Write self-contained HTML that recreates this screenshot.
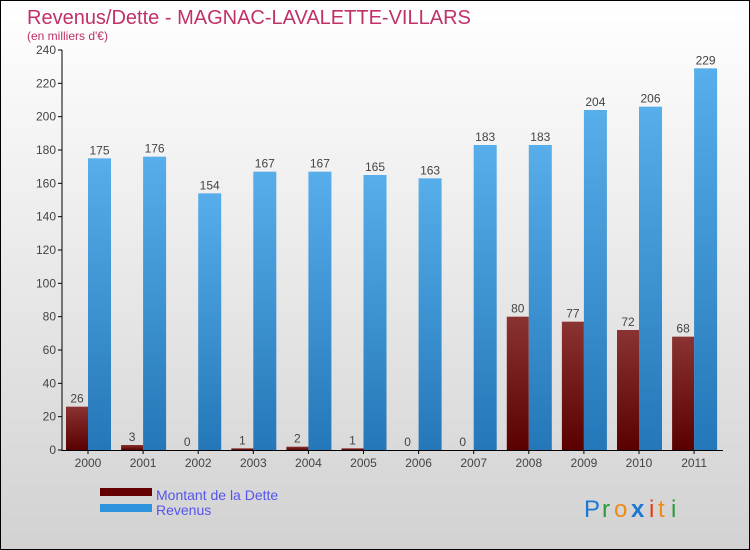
<!DOCTYPE html>
<html><head><meta charset="utf-8"><style>
body{margin:0}
#c{width:750px;height:550px;position:relative;box-sizing:border-box;border:1px solid #000;background:linear-gradient(#fff,#d2d2d2);font-family:"Liberation Sans",sans-serif;overflow:hidden}
</style></head><body>
<div id="c">
<svg id="s" width="748" height="548" style="position:absolute;left:0;top:0">
<defs>
<linearGradient id="gr" x1="0" y1="0" x2="0" y2="1"><stop offset="0" stop-color="#57aeea"/><stop offset="1" stop-color="#2477b8"/></linearGradient>
<linearGradient id="gd" x1="0" y1="0" x2="0" y2="1"><stop offset="0" stop-color="#8a3333"/><stop offset="1" stop-color="#5a0000"/></linearGradient>
</defs>
<text x="26" y="23" font-size="20" fill="#c0306a">Revenus/Dette - MAGNAC-LAVALETTE-VILLARS</text>
<text x="26" y="39" font-size="12" fill="#c0306a">(en milliers d'€)</text>
<g id="g"></g>
<rect x="99" y="487" width="52" height="8" fill="#650000"/>
<rect x="99" y="503" width="52" height="8" fill="#2c93dc"/>
<text x="155" y="499" font-size="14" fill="#5555ee">Montant de la Dette</text>
<text x="155" y="514" font-size="14" fill="#5555ee">Revenus</text>
<g font-size="24" font-family="'Liberation Sans',sans-serif">
<text x="583" y="516" fill="#1e78d2">P</text><text x="601" y="516" fill="#2a9a3a">r</text><text x="613" y="516" fill="#f08a10">o</text><text x="630" y="516" fill="#1e78d2" font-weight="bold">x</text><text x="648" y="516" fill="#e83a10">i</text><text x="657" y="516" fill="#f08a10">t</text><text x="670" y="516" fill="#2a9a3a">i</text>
</g>
</svg>
</div>
<script>
const years=["2000","2001","2002","2003","2004","2005","2006","2007","2008","2009","2010","2011"];
const dette=[26,3,0,1,2,1,0,0,80,77,72,68];
const revenus=[175,176,154,167,167,165,163,183,183,204,206,229];
const ticks=[0,20,40,60,80,100,120,140,160,180,200,220,240];
const NS="http://www.w3.org/2000/svg";
const g=document.getElementById('g');
const y=v=>449-v*400/240;
const xc=i=>87+i*55.1;
function mk(t,a){const e=document.createElementNS(NS,t);for(const k in a)e.setAttribute(k,a[k]);g.appendChild(e);return e;}
ticks.forEach(t=>{
 const l=mk('line',{x1:57,x2:61,y1:y(t),y2:y(t),stroke:'#000'});
 
 
 const tx=mk('text',{x:55,y:y(t)+4,'font-size':12,'text-anchor':'end',fill:'#444'});tx.textContent=t;
 
 
});
years.forEach((yr,i)=>{
 const c=xc(i);
 const d=mk('rect',{x:c-22,y:y(dette[i]),width:22,height:Math.max(dette[i]*400/240,1),fill:'url(#gd)'});
 
 
 const r=mk('rect',{x:c,y:y(revenus[i]),width:23,height:revenus[i]*400/240,fill:'url(#gr)'});
 
 
 const dl=mk('text',{x:c-11,y:y(dette[i])-4,'font-size':12,'text-anchor':'middle',fill:'#444'});dl.textContent=dette[i];
 
 
 const rl=mk('text',{x:c+11.5,y:y(revenus[i])-4,'font-size':12,'text-anchor':'middle',fill:'#444'});rl.textContent=revenus[i];
 
 
 const tk=mk('line',{x1:c,x2:c,y1:449,y2:453,stroke:'#000'});
 
 
 const xl=mk('text',{x:c,y:466,'font-size':12,'text-anchor':'middle',fill:'#444'});xl.textContent=yr;
 
 
});
const ya=mk('line',{x1:61,x2:61,y1:49,y2:450,stroke:'#000'});


const xa=mk('line',{x1:61,x2:722,y1:449.5,y2:449.5,stroke:'#000'});


</script>
</body></html>
